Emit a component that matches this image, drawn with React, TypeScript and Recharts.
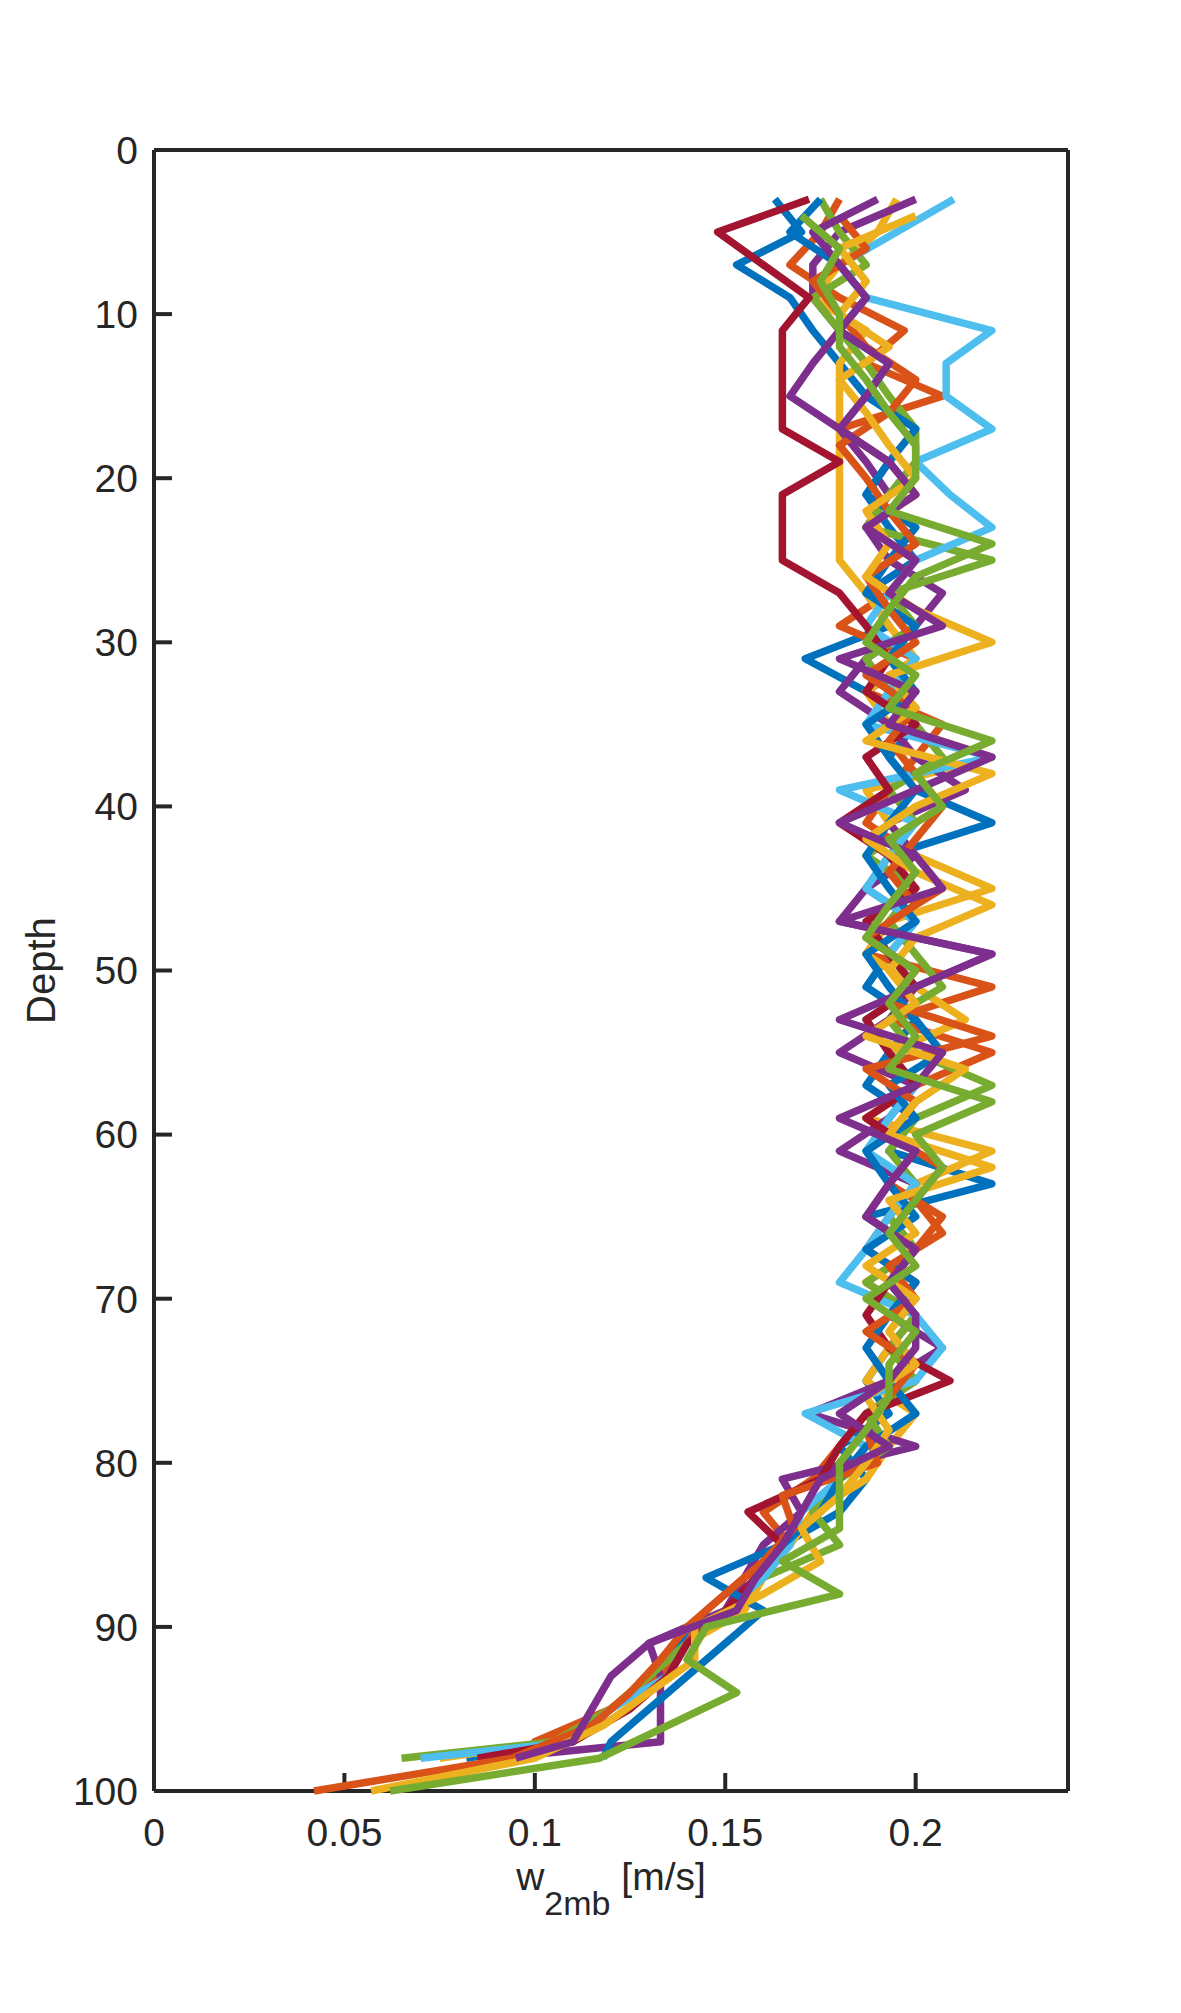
import React from "react";
import { ScatterChart, Scatter, XAxis, YAxis } from "recharts";

// depth grids (two sampling schemes)
const depthA = [
  3, 5, 7, 9, 11, 13, 15, 17, 19, 21, 23, 25, 27, 29, 31, 33, 35, 37, 39, 41,
  43, 45, 47, 49, 51, 53, 55, 57, 59, 61, 63, 65, 67, 69, 71, 73, 75, 77, 79, 81,
  83, 85, 87, 89, 91, 93, 95, 97, 98,
];
const depthB = [
  4, 6, 8, 10, 12, 14, 16, 18, 20, 22, 24, 26, 28, 30, 32, 34, 36, 38, 40, 42,
  44, 46, 48, 50, 52, 54, 56, 58, 60, 62, 64, 66, 68, 70, 72, 74, 76, 78, 80, 82,
  84, 86, 88, 90, 92, 94, 96, 98, 100,
];

// w2mb [m/s] per profile
const blue1 = [
  0.163, 0.17, 0.153, 0.167, 0.173, 0.18, 0.187, 0.18, 0.193, 0.187,
  0.193, 0.2, 0.187, 0.193, 0.171, 0.187, 0.2, 0.193, 0.2, 0.22,
  0.193, 0.187, 0.2, 0.193, 0.187, 0.2, 0.193, 0.187, 0.2, 0.193,
  0.22, 0.187, 0.2, 0.193, 0.2, 0.193, 0.187, 0.193, 0.18, 0.187,
  0.18, 0.165, 0.16, 0.15, 0.138, 0.133, 0.12, 0.108, 0.082,
];
const orange1 = [
  0.18, 0.175, 0.167, 0.18, 0.197, 0.187, 0.207, 0.18, 0.193, 0.2,
  0.187, 0.2, 0.193, 0.18, 0.2, 0.187, 0.207, 0.2, 0.193, 0.187,
  0.2, 0.207, 0.193, 0.187, 0.22, 0.193, 0.22, 0.2, 0.187, 0.2,
  0.193, 0.207, 0.2, 0.187, 0.2, 0.193, 0.2, 0.187, 0.18, 0.173,
  0.16, 0.167, 0.155, 0.145, 0.14, 0.133, 0.12, 0.1, 0.1,
];
const yellow1 = [
  0.195, 0.19, 0.18, 0.173, 0.187, 0.18, 0.18, 0.18, 0.18, 0.18,
  0.18, 0.18, 0.187, 0.193, 0.2, 0.187, 0.193, 0.22, 0.187, 0.193,
  0.2, 0.22, 0.193, 0.187, 0.2, 0.213, 0.193, 0.2, 0.187, 0.22,
  0.2, 0.193, 0.2, 0.187, 0.2, 0.193, 0.187, 0.2, 0.193, 0.187,
  0.173, 0.167, 0.16, 0.155, 0.14, 0.13, 0.12, 0.105, 0.075,
];
const purple1 = [
  0.2, 0.18, 0.173, 0.173, 0.18, 0.173, 0.167, 0.18, 0.187, 0.193,
  0.187, 0.193, 0.207, 0.2, 0.187, 0.18, 0.193, 0.2, 0.213, 0.193,
  0.2, 0.187, 0.18, 0.22, 0.2, 0.193, 0.18, 0.2, 0.193, 0.18,
  0.2, 0.193, 0.187, 0.2, 0.193, 0.207, 0.193, 0.172, 0.2, 0.165,
  0.17, 0.16, 0.155, 0.15, 0.13, 0.133, 0.133, 0.133, 0.09,
];
const green1 = [
  0.175, 0.18, 0.187, 0.173, 0.18, 0.187, 0.193, 0.2, 0.2, 0.193,
  0.187, 0.22, 0.193, 0.2, 0.187, 0.193, 0.2, 0.207, 0.193, 0.2,
  0.187, 0.2, 0.193, 0.2, 0.207, 0.193, 0.2, 0.22, 0.2, 0.193,
  0.2, 0.193, 0.2, 0.187, 0.2, 0.193, 0.2, 0.187, 0.193, 0.18,
  0.173, 0.18, 0.16, 0.15, 0.14, 0.13, 0.12, 0.105, 0.065,
];
const cyan1 = [
  0.21, 0.195, 0.18, 0.187, 0.22, 0.208, 0.208, 0.22, 0.2, 0.209,
  0.22, 0.2, 0.193, 0.187, 0.2, 0.193, 0.187, 0.22, 0.18, 0.2,
  0.193, 0.187, 0.2, 0.193, 0.2, 0.187, 0.193, 0.2, 0.193, 0.187,
  0.2, 0.193, 0.187, 0.18, 0.2, 0.207, 0.2, 0.171, 0.187, 0.18,
  0.17, 0.167, 0.16, 0.15, 0.14, 0.135, 0.12, 0.11, 0.07,
];
const red1 = [
  0.172, 0.148, 0.16, 0.172, 0.165, 0.165, 0.165, 0.165, 0.18, 0.165,
  0.165, 0.165, 0.18, 0.187, 0.193, 0.187, 0.2, 0.187, 0.193, 0.18,
  0.193, 0.2, 0.187, 0.193, 0.2, 0.187, 0.193, 0.2, 0.187, 0.2,
  0.193, 0.187, 0.2, 0.193, 0.187, 0.193, 0.209, 0.187, 0.18, 0.175,
  0.156, 0.165, 0.158, 0.15, 0.14, 0.135, 0.125, 0.11, 0.085,
];
const blue2 = [
  0.175, 0.167, 0.18, 0.187, 0.18, 0.193, 0.187, 0.2, 0.193, 0.187,
  0.2, 0.193, 0.187, 0.2, 0.193, 0.2, 0.187, 0.193, 0.2, 0.193,
  0.187, 0.193, 0.2, 0.187, 0.193, 0.2, 0.207, 0.193, 0.2, 0.187,
  0.193, 0.2, 0.187, 0.2, 0.193, 0.187, 0.193, 0.2, 0.187, 0.18,
  0.175, 0.165, 0.145, 0.16, 0.15, 0.14, 0.13, 0.12, 0.118,
];
const orange2 = [
  0.18, 0.187, 0.173, 0.18, 0.187, 0.2, 0.193, 0.18, 0.187, 0.193,
  0.2, 0.187, 0.193, 0.2, 0.187, 0.2, 0.193, 0.2, 0.207, 0.2,
  0.193, 0.2, 0.187, 0.2, 0.193, 0.22, 0.187, 0.2, 0.193, 0.207,
  0.2, 0.207, 0.193, 0.2, 0.187, 0.2, 0.193, 0.187, 0.19, 0.165,
  0.168, 0.16, 0.15, 0.14, 0.133, 0.125, 0.115, 0.094, 0.042,
];
const yellow2 = [
  0.2, 0.18, 0.187, 0.18, 0.193, 0.18, 0.187, 0.193, 0.2, 0.187,
  0.193, 0.187, 0.2, 0.22, 0.193, 0.2, 0.187, 0.22, 0.2, 0.187,
  0.2, 0.22, 0.2, 0.193, 0.2, 0.187, 0.213, 0.2, 0.193, 0.22,
  0.193, 0.2, 0.187, 0.2, 0.193, 0.2, 0.187, 0.193, 0.187, 0.18,
  0.17, 0.175, 0.16, 0.142, 0.142, 0.13, 0.118, 0.1, 0.057,
];
const purple2 = [
  0.19, 0.173, 0.18, 0.187, 0.18, 0.193, 0.187, 0.18, 0.193, 0.2,
  0.187, 0.2, 0.193, 0.207, 0.18, 0.2, 0.193, 0.22, 0.2, 0.18,
  0.2, 0.207, 0.18, 0.22, 0.2, 0.18, 0.207, 0.2, 0.18, 0.2,
  0.193, 0.187, 0.2, 0.193, 0.2, 0.2, 0.193, 0.18, 0.193, 0.175,
  0.17, 0.165, 0.158, 0.153, 0.13, 0.12, 0.115, 0.11, 0.095,
];
const green2 = [
  0.17, 0.18, 0.175, 0.18, 0.18, 0.187, 0.193, 0.2, 0.2, 0.193,
  0.22, 0.2, 0.193, 0.187, 0.2, 0.193, 0.22, 0.2, 0.207, 0.193,
  0.2, 0.193, 0.187, 0.2, 0.193, 0.2, 0.193, 0.22, 0.2, 0.207,
  0.2, 0.193, 0.2, 0.187, 0.2, 0.193, 0.193, 0.187, 0.18, 0.18,
  0.18, 0.165, 0.18, 0.145, 0.14, 0.153, 0.135, 0.117, 0.062,
];

// MATLAB default colour order
const C = {
  blue: "#0072BD",
  orange: "#D95319",
  yellow: "#EDB120",
  purple: "#7E2F8E",
  green: "#77AC30",
  cyan: "#4DBEEE",
  red: "#A2142F",
};

const series = [
  { name: "p1", w: blue1, d: depthA, color: C.blue },
  { name: "p2", w: orange1, d: depthA, color: C.orange },
  { name: "p3", w: yellow1, d: depthA, color: C.yellow },
  { name: "p4", w: purple1, d: depthA, color: C.purple },
  { name: "p5", w: green1, d: depthA, color: C.green },
  { name: "p6", w: cyan1, d: depthA, color: C.cyan },
  { name: "p7", w: red1, d: depthA, color: C.red },
  { name: "p8", w: blue2, d: depthA, color: C.blue },
  { name: "p9", w: orange2, d: depthB, color: C.orange },
  { name: "p10", w: yellow2, d: depthB, color: C.yellow },
  { name: "p11", w: purple2, d: depthA, color: C.purple },
  { name: "p12", w: green2, d: depthB, color: C.green },
];

const xTicks = [0, 0.05, 0.1, 0.15, 0.2];
const yTicks = [0, 10, 20, 30, 40, 50, 60, 70, 80, 90, 100];

const INK = "#262626";
const FONT = '"Liberation Sans", Arial, Helvetica, sans-serif';
const LW = 7.5;
const tickStyle = { fill: INK, fontSize: 39, fontFamily: FONT };
const axisStroke = { stroke: INK, strokeWidth: 4 };

const XTitle = (props: any) => {
  const vb = props.viewBox;
  const cx = vb.x + vb.width / 2;
  const y = vb.y + 99;
  return (
    <text x={cx} y={y} textAnchor="middle" fill={INK} fontFamily={FONT} fontSize={39}>
      <tspan>w</tspan>
      <tspan dy={25} fontSize={34}>2mb</tspan>
      <tspan dy={-25}> [m/s]</tspan>
    </text>
  );
};

const YTitle = (props: any) => {
  const vb = props.viewBox;
  const x = vb.x + vb.width - 99;
  const y = vb.y + vb.height / 2;
  return (
    <text
      x={x}
      y={y}
      transform={`rotate(-90, ${x}, ${y})`}
      textAnchor="middle"
      fill={INK}
      fontFamily={FONT}
      fontSize={40}
    >
      Depth
    </text>
  );
};

const noDot = () => <g />;

export default function App() {
  return (
    <div style={{ position: "absolute", left: 0, top: 0, width: 1181, height: 2013, background: "#fff", fontFamily: FONT }}>
      <ScatterChart width={1181} height={2013} margin={{ top: 140, right: 103, bottom: 162, left: 94 }}>
        <XAxis
          xAxisId="b"
          type="number"
          dataKey="w"
          orientation="bottom"
          domain={[0, 0.24]}
          ticks={xTicks}
          height={60}
          tickSize={-18}
          tickMargin={45}
          tick={tickStyle}
          axisLine={axisStroke}
          tickLine={axisStroke}
          label={<XTitle />}
        />
        <XAxis
          xAxisId="t"
          type="number"
          orientation="top"
          domain={[0, 0.24]}
          ticks={xTicks}
          height={10}
          tickSize={-18}
          tick={false}
          axisLine={axisStroke}
          tickLine={axisStroke}
        />
        <YAxis
          yAxisId="l"
          type="number"
          dataKey="d"
          orientation="left"
          domain={[0, 100]}
          ticks={yTicks}
          reversed
          width={60}
          tickSize={-18}
          tickMargin={34}
          tick={tickStyle}
          axisLine={axisStroke}
          tickLine={axisStroke}
          label={<YTitle />}
        />
        <YAxis
          yAxisId="r"
          type="number"
          orientation="right"
          domain={[0, 100]}
          ticks={yTicks}
          reversed
          width={10}
          tickSize={-18}
          tick={false}
          axisLine={axisStroke}
          tickLine={axisStroke}
        />
        {series.map((s) => (
          <Scatter
            key={s.name}
            name={s.name}
            xAxisId="b"
            yAxisId="l"
            data={s.w.map((w, i) => ({ w, d: s.d[i] }))}
            fill={s.color}
            stroke={s.color}
            strokeWidth={LW}
            strokeLinejoin="round"
            line={{ stroke: s.color, strokeWidth: LW, strokeLinejoin: "round", strokeLinecap: "butt" }}
            lineType="joint"
            shape={noDot}
            isAnimationActive={false}
          />
        ))}
      </ScatterChart>
    </div>
  );
}
